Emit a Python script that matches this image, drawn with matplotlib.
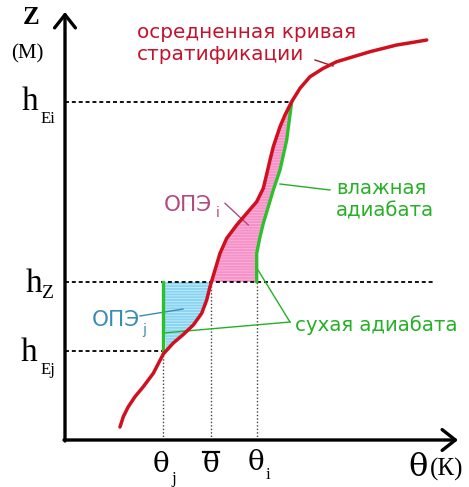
import numpy as np
import matplotlib
matplotlib.use("Agg")
import matplotlib.pyplot as plt

# осредненная кривая стратификации (theta, z), условные единицы
curve_theta = [5.5, 5.83, 6.33, 7.0, 7.83, 8.83, 9.83, 10.83, 11.83, 12.83, 13.67,
               14.17, 14.5, 15.0, 15.5, 16.17, 17.17, 18.17, 19.17, 19.83, 20.15,
               20.5, 20.83, 21.5, 22.0, 22.67, 23.5, 24.5, 25.83, 27.17, 28.83,
               30.5, 33.17, 34.83, 36.17]
curve_z = [1.3, 2.33, 3.33, 4.33, 5.33, 6.67, 8.6, 9.7, 10.55, 11.5, 12.67,
           14.0, 15.33, 17.0, 18.67, 20.17, 21.5, 22.67, 23.83, 25.17, 26.5,
           28.0, 29.33, 31.33, 32.5, 33.83, 35.17, 36.33, 37.17, 37.83, 38.33,
           38.83, 39.5, 39.77, 40.0]

# влажная адиабата (от hZ до hEi)
moist_theta = [19.17, 19.17, 19.5, 19.83, 20.83, 21.5, 22.17, 22.67]
moist_z = [15.8, 18.67, 20.3, 21.67, 25.0, 27.0, 30.0, 33.83]

# уровни и характерные температуры
h_Ei, h_Z, h_Ej = 33.83, 15.8, 8.9
theta_j, theta_bar, theta_i = 9.8, 14.6, 19.2
z_top, theta_right = 42.8, 39.3

RED = "#d0101e"
GREEN = "#2cc02c"
GREEN_TXT = "#25b025"
PINK = "#f590c8"
BLUE = "#8ad4f2"
MAUVE = "#b24a80"
TEAL = "#3a8db2"

serif = "Liberation Serif"
greek = "DejaVu Serif"
sans = "DejaVu Sans"

fig = plt.figure(figsize=(4.69, 4.87), dpi=100)
ax = fig.add_axes([0, 0, 1, 1])
ax.set_xlim(-6.5, 40.4)
ax.set_ylim(-4.7, 44.0)
ax.axis("off")

ct = np.array(curve_theta)
cz = np.array(curve_z)

# розовая область ОПЭi
t_hz = np.interp(h_Z, cz, ct)
t_he = np.interp(h_Ei, cz, ct)
m = (cz > h_Z) & (cz < h_Ei)
px = np.concatenate([[t_hz], ct[m], [t_he], moist_theta[::-1]])
pz = np.concatenate([[h_Z], cz[m], [h_Ei], moist_z[::-1]])
plt.rcParams["hatch.linewidth"] = 0.6
ax.fill(px, pz, facecolor=PINK, edgecolor="#fbb6da", hatch="------", lw=0, zorder=1)

# голубая область ОПЭj
t_ej = np.interp(h_Ej, cz, ct)
m = (cz > h_Ej) & (cz < h_Z)
bx = np.concatenate([[theta_j, t_ej], ct[m], [t_hz, theta_j]])
bz = np.concatenate([[h_Z, h_Ej], cz[m], [h_Z, h_Z]])
ax.fill(bx, bz, facecolor=BLUE, edgecolor="#c4ecfa", hatch="------", lw=0, zorder=1)

# пунктирные уровни
dash = dict(color="black", lw=1.3, ls=(0, (2.2, 1.6)), zorder=2)
ax.plot([0, 22.67], [h_Ei, h_Ei], **dash)
ax.plot([0, 37.0], [h_Z, h_Z], **dash)
ax.plot([0, theta_j], [h_Ej, h_Ej], **dash)
dot = dict(color="#444444", lw=1.0, ls=(0, (1, 1.5)), zorder=2)
ax.plot([theta_j, theta_j], [0, h_Ej], **dot)
ax.plot([theta_bar, theta_bar], [0, h_Z], **dot)
ax.plot([theta_i, theta_i], [0, h_Z], **dot)

# адиабаты и кривая
ax.plot(moist_theta, moist_z, color=GREEN, lw=2.4, zorder=3, solid_capstyle="round",
        solid_joinstyle="round")
ax.plot([theta_j, theta_j], [h_Ej, h_Z], color=GREEN, lw=2.4, zorder=3)
ax.plot(ct, cz, color=RED, lw=2.5, zorder=4, solid_capstyle="round",
        solid_joinstyle="round")

# оси
arrow = dict(arrowstyle="->, head_length=0.95, head_width=0.75", lw=2.4, color="black",
             shrinkA=0, shrinkB=0)
ax.annotate("", xy=(0, z_top), xytext=(0, -0.1), arrowprops=arrow)
ax.annotate("", xy=(theta_right, 0), xytext=(-0.1, 0), arrowprops=arrow)

# подписи осей
ax.text(-3.4, 42.2, "Z", family=serif, fontsize=18, fontweight="bold",
        ha="center", va="center")
ax.text(-3.8, 38.6, "(М)", family=serif, fontsize=15, ha="center", va="center")

ax.text(-2.65, h_Ei, "h", family=serif, fontsize=24, ha="right", va="center")
ax.text(-1.0, h_Ei - 1.7, "Ei", family=serif, fontsize=12, ha="right", va="center")
ax.text(-2.25, h_Z - 0.2, "h", family=serif, fontsize=24, ha="right", va="center")
ax.text(-1.15, h_Z - 1.1, "Z", family=serif, fontsize=14, ha="right", va="center")
ax.text(-2.75, h_Ej - 0.2, "h", family=serif, fontsize=24, ha="right", va="center")
ax.text(-1.0, h_Ej - 1.9, "Ej", family=serif, fontsize=12, ha="right", va="center")

ax.text(theta_j - 0.2, -2.4, "θ", family=greek, fontsize=20, ha="center", va="center")
ax.text(theta_j + 1.1, -3.9, "j", family=serif, fontsize=12, ha="center", va="center")
ax.text(theta_bar, -2.5, "θ", family=greek, fontsize=20, ha="center", va="center")
ax.plot([theta_bar - 0.8, theta_bar + 0.8], [-1.2, -1.2], color="black", lw=1.6)
ax.text(theta_i - 0.1, -2.2, "θ", family=greek, fontsize=20, ha="center", va="center")
ax.text(theta_i + 1.1, -3.5, "i", family=serif, fontsize=12, ha="center", va="center")
ax.text(35.3, -2.7, "θ", family=greek, fontsize=23, ha="center", va="center")
ax.text(36.5, -2.9, "(К)", family=serif, fontsize=18, ha="left", va="center")

# надписи и выноски
ax.text(7.2, 39.7, "осредненная кривая\nстратификации", family=sans, fontsize=14.4,
        color="#c4122a", ha="left", va="center", linespacing=1.2)
ax.plot([25.0, 26.8], [38.0, 37.4], color="#9a1a2a", lw=1.0)

ax.text(9.9, 23.5, "ОПЭ", family=sans, fontsize=15.5, color=MAUVE, ha="left", va="center")
ax.text(15.1, 22.7, "i", family=sans, fontsize=10, color=MAUVE, ha="left", va="center")
ax.plot([16.0, 18.33], [23.67, 21.5], color=MAUVE, lw=1.0)

ax.text(27.1, 24.0, "влажная\nадиабата", family=sans, fontsize=14.2, color=GREEN_TXT,
        ha="left", va="center", linespacing=1.2)
ax.plot([21.5, 26.5], [25.6, 25.0], color=GREEN_TXT, lw=1.0)

ax.text(23.0, 11.5, "сухая адиабата", family=sans, fontsize=14.2, color=GREEN_TXT,
        ha="left", va="center")
ax.plot([19.3, 22.5], [17.0, 11.8], color=GREEN_TXT, lw=1.0)
ax.plot([theta_j, 22.5], [10.7, 11.8], color=GREEN_TXT, lw=1.0)

ax.text(2.7, 12.0, "ОПЭ", family=sans, fontsize=15.5, color=TEAL, ha="left", va="center")
ax.text(7.7, 11.0, "j", family=sans, fontsize=10, color=TEAL, ha="left", va="center")
ax.plot([7.5, 11.8], [12.4, 13.1], color=TEAL, lw=1.0)

fig.savefig("out.png", dpi=100)
